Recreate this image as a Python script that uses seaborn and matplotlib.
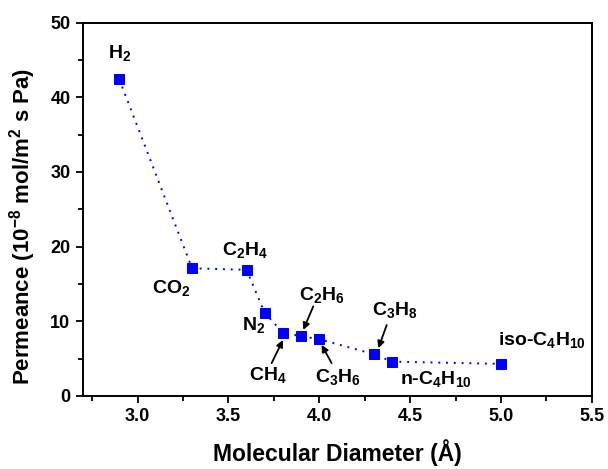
import matplotlib
matplotlib.use("Agg")
import matplotlib.pyplot as plt
import seaborn as sns
from matplotlib.ticker import MultipleLocator
from pandas import DataFrame

gases=["H$_2$","CO$_2$","C$_2$H$_4$","N$_2$","CH$_4$","C$_2$H$_6$","C$_3$H$_6$","C$_3$H$_8$","n-C$_4$H$_{10}$","iso-C$_4$H$_{10}$"]
diameter=[2.90,3.3,3.6,3.7,3.8,3.9,4.0,4.3,4.4,5.0]
permeance=[42.4,17.1,16.9,11.1,8.5,8.0,7.6,5.6,4.6,4.3]

# label positions (data coords), and arrow tail/head for the crowded ones
labelPos=[(2.90,45.9),(3.187,14.4),(3.59,19.6),(3.64,9.5),(3.72,2.8),(4.013,13.5),(4.105,2.6),(4.417,11.5),(4.64,2.3),(5.225,7.5)]
arrows={4:((3.738,4.4),(3.80,7.5)),5:((3.967,12.0),(3.912,8.85)),6:((4.068,4.4),(4.013,6.85)),7:((4.371,9.5),(4.325,6.4))}

sns.set_style("ticks")
plt.rcParams['font.family']=['Liberation Sans','DejaVu Sans']
plt.rcParams['font.weight']='bold'
plt.rcParams['mathtext.fontset']='custom'
plt.rcParams['mathtext.rm']='Liberation Sans:bold'
plt.rcParams['mathtext.it']='Liberation Sans:bold'
plt.rcParams['mathtext.bf']='Liberation Sans:bold'
plt.rcParams['mathtext.default']='rm'
for k in ['text.color','axes.labelcolor','xtick.color','ytick.color','axes.edgecolor']:
    plt.rcParams[k]='black'

fig=plt.figure(figsize=(6.08,4.69),dpi=100)
ax=fig.add_axes([0.1365,0.1557,0.837,0.796])
df=DataFrame({"d":diameter,"p":permeance})
sns.lineplot(data=df,x="d",y="p",ax=ax,color="#0000ff",marker="s",markersize=7,
             markeredgecolor="#0000ff",linestyle=(0,(1,3)),linewidth=1.4,sort=False)

for i,name in enumerate(gases):
    x,y=labelPos[i]
    ax.text(x,y,name,ha="center",va="center",fontsize=14,fontweight="bold")
for i,(tail,head) in arrows.items():
    ax.annotate("",xy=head,xytext=tail,arrowprops=dict(arrowstyle="-|>",color="black",lw=1.3,
                mutation_scale=10,shrinkA=0,shrinkB=0))

ax.set_xlim(2.70,5.5)
ax.set_ylim(0,50)
ax.xaxis.set_major_locator(MultipleLocator(0.5))
ax.xaxis.set_minor_locator(MultipleLocator(0.25))
ax.yaxis.set_major_locator(MultipleLocator(10))
ax.yaxis.set_minor_locator(MultipleLocator(5))
ax.tick_params(which="both",direction="out",top=False,right=False,width=1.3)
ax.tick_params(which="major",length=5,labelsize=13,pad=4)
ax.tick_params(which="minor",length=3.5)
for lab in ax.get_xticklabels()+ax.get_yticklabels():
    lab.set_fontweight("bold")
for s in ax.spines.values():
    s.set_linewidth(1.4)
    s.set_visible(True)
ax.set_xlabel("Molecular Diameter (Å)",fontsize=16.5,fontweight="bold")
ax.xaxis.set_label_coords(0.5,-0.115)
ax.set_ylabel("Permeance (10$^{-8}$ mol/m$^2$ s Pa)",fontsize=16,fontweight="bold")
ax.yaxis.set_label_coords(-0.088,0.454)
plt.savefig("out.png",dpi=100)
